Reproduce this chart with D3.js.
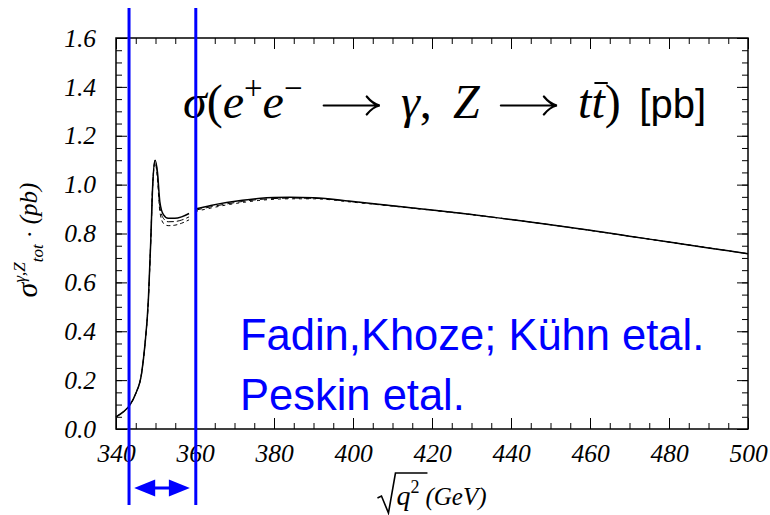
<!DOCTYPE html>
<html>
<head>
<meta charset="utf-8">
<script src="https://cdn.jsdelivr.net/npm/d3@7"></script>
<style>
  html, body { margin: 0; padding: 0; background: #fff; }
  svg { display: block; }
</style>
</head>
<body>
<script>
// ---------------- DATA ----------------
const xTickValues = [340, 360, 380, 400, 420, 440, 460, 480, 500];
const xTickLabels = ["340", "360", "380", "400", "420", "440", "460", "480", "500"];
const yTickValues = [0.0, 0.2, 0.4, 0.6, 0.8, 1.0, 1.2, 1.4, 1.6];
const yTickLabels = ["0.0", "0.2", "0.4", "0.6", "0.8", "1.0", "1.2", "1.4", "1.6"];

// threshold region (340 - 358.5 GeV)
const threshX      = [340, 342, 343.5, 345, 346.5, 347.3, 348.2, 348.8, 349.3, 349.9, 350.5, 351.1, 352, 353.2, 354.9, 356.6, 358.5];
const threshSolid  = [0.05, 0.072, 0.098, 0.145, 0.23, 0.34, 0.53, 0.77, 1.00, 1.10, 1.05, 0.93, 0.877, 0.862, 0.862, 0.868, 0.882];
const threshDash1  = [0.05, 0.072, 0.098, 0.145, 0.23, 0.34, 0.53, 0.77, 1.00, 1.10, 1.04, 0.91, 0.862, 0.848, 0.849, 0.855, 0.868];
const threshDash2  = [0.05, 0.072, 0.098, 0.145, 0.23, 0.34, 0.53, 0.77, 1.00, 1.09, 1.02, 0.89, 0.842, 0.832, 0.834, 0.842, 0.856];

// continuum region (360 - 500 GeV)
const contX     = [360, 364, 368, 372, 376, 380, 384, 390, 400, 410, 420, 430, 440, 450, 460, 470, 480, 490, 500];
const contSolid = [0.900, 0.915, 0.927, 0.936, 0.943, 0.947, 0.948, 0.946, 0.931, 0.914, 0.896, 0.878, 0.857, 0.836, 0.813, 0.789, 0.765, 0.741, 0.717];
const contDash1 = [0.895, 0.909, 0.921, 0.931, 0.939, 0.943, 0.945, 0.944, 0.930, 0.913, 0.896, 0.878, 0.857, 0.836, 0.813, 0.789, 0.765, 0.741, 0.717];
const contDash2 = [0.890, 0.904, 0.917, 0.927, 0.935, 0.940, 0.942, 0.942, 0.928, 0.912, 0.895, 0.877, 0.857, 0.836, 0.813, 0.789, 0.765, 0.741, 0.717];

// annotation (blue) in data units
const windowLines = [343.3, 360.2];
const arrowRange  = [344.6, 358.7];
const annotationLines = ["Fadin,Khoze; Kühn etal.", "Peskin etal."];

// ---------------- SETUP ----------------
const W = 770, H = 515;
const SERIF = "'Liberation Serif', 'Times New Roman', 'DejaVu Serif', serif";
const SANS = "'Liberation Sans', Arial, 'DejaVu Sans', sans-serif";
const BLUE = "#0000ff";

const svg = d3.select("body").append("svg").attr("width", W).attr("height", H);

const x = d3.scaleLinear().domain([340, 500]).range([116, 748]);
const y = d3.scaleLinear().domain([0, 1.6]).range([429, 38]);

const xMinor = d3.range(340, 500.01, 5);
const yMinor = d3.range(0, 1.6001, 0.05);

function styleAxis(g) {
  g.select(".domain").remove();
  g.selectAll(".tick line").attr("stroke", "#000").attr("stroke-width", 1);
  g.selectAll(".tick text")
    .attr("font-family", SERIF).attr("font-style", "italic")
    .attr("font-size", 25.5).attr("fill", "#000");
}

// minor ticks
svg.append("g").attr("transform", `translate(0,${y(0)})`)
  .call(d3.axisBottom(x).tickValues(xMinor).tickSize(-6).tickFormat("")).call(styleAxis);
svg.append("g").attr("transform", `translate(0,${y(1.6)})`)
  .call(d3.axisTop(x).tickValues(xMinor).tickSize(-6).tickFormat("")).call(styleAxis);
svg.append("g").attr("transform", `translate(${x(340)},0)`)
  .call(d3.axisLeft(y).tickValues(yMinor).tickSize(-6).tickFormat("")).call(styleAxis);
svg.append("g").attr("transform", `translate(${x(500)},0)`)
  .call(d3.axisRight(y).tickValues(yMinor).tickSize(-6).tickFormat("")).call(styleAxis);

// major ticks
svg.append("g").attr("transform", `translate(0,${y(0)})`)
  .call(d3.axisBottom(x).tickValues(xTickValues).tickSizeInner(-11).tickSizeOuter(0)
    .tickPadding(15).tickFormat((d, i) => xTickLabels[i])).call(styleAxis);
svg.append("g").attr("transform", `translate(0,${y(1.6)})`)
  .call(d3.axisTop(x).tickValues(xTickValues).tickSizeInner(-11).tickSizeOuter(0).tickFormat("")).call(styleAxis);
svg.append("g").attr("transform", `translate(${x(340)},0)`)
  .call(d3.axisLeft(y).tickValues(yTickValues).tickSizeInner(-11).tickSizeOuter(0)
    .tickPadding(20).tickFormat((d, i) => yTickLabels[i])).call(styleAxis);
svg.append("g").attr("transform", `translate(${x(500)},0)`)
  .call(d3.axisRight(y).tickValues(yTickValues).tickSizeInner(-11).tickSizeOuter(0).tickFormat("")).call(styleAxis);

// frame
svg.append("rect")
  .attr("x", x(340)).attr("y", y(1.6))
  .attr("width", x(500) - x(340)).attr("height", y(0) - y(1.6))
  .attr("fill", "none").attr("stroke", "#000").attr("stroke-width", 1.5);

// ---------------- CURVES ----------------
const line = d3.line().x(d => x(d[0])).y(d => y(d[1])).curve(d3.curveMonotoneX);
function drawCurve(xs, ys, dash, width) {
  svg.append("path")
    .datum(xs.map((v, i) => [v, ys[i]]))
    .attr("d", line)
    .attr("fill", "none").attr("stroke", "#000")
    .attr("stroke-width", width)
    .attr("stroke-dasharray", dash);
}
drawCurve(threshX, threshDash2, "4,3", 1);
drawCurve(threshX, threshDash1, "7,3", 1);
drawCurve(threshX, threshSolid, null, 1.5);
drawCurve(contX, contDash2, "3,4", 1);
drawCurve(contX, contDash1, "7,4", 1);
drawCurve(contX, contSolid, null, 1.5);

// ---------------- RICH TEXT HELPER ----------------
// pieces laid out left to right; {gap:w} adds space (stretched to reach targetWidth);
// {hold:true} stacks next piece at same x; {arrow:w, axis:h} draws a math arrow
function rich(parent, pieces, targetWidth) {
  const g = parent.append("g");
  const items = [];
  let holdW = null, natural = 0, gapTotal = 0;
  pieces.forEach(p => {
    if (p.gap) { items.push({ gap: p.gap }); gapTotal += p.gap; natural += p.gap; return; }
    if (p.arrow) { items.push({ arrow: p.arrow, axis: p.axis }); natural += p.arrow; return; }
    const t = g.append("text")
      .attr("y", p.dy || 0)
      .attr("font-family", p.ff || SERIF)
      .attr("font-size", p.fs)
      .attr("font-style", p.it ? "italic" : "normal")
      .attr("fill", p.fill || "#000")
      .text(p.t);
    const w = t.node().getComputedTextLength();
    let adv;
    if (p.hold) { holdW = w; adv = 0; }
    else if (holdW !== null) { adv = Math.max(w, holdW); holdW = null; }
    else adv = w;
    items.push({ t, w, adv, p });
    natural += adv;
  });
  const gapScale = (targetWidth && gapTotal > 0)
    ? Math.min(2, Math.max(0.5, (targetWidth - (natural - gapTotal)) / gapTotal)) : 1;
  let cx = 0;
  items.forEach(it => {
    if (it.gap !== undefined) { cx += it.gap * gapScale; return; }
    if (it.arrow !== undefined) {
      const w = it.arrow, a = -it.axis;
      g.append("path")
        .attr("d", `M${cx},${a} L${cx + w - 1.5},${a} M${cx + w - 13},${a - 9} Q${cx + w - 7},${a - 1.5} ${cx + w},${a} Q${cx + w - 7},${a + 1.5} ${cx + w - 13},${a + 9}`)
        .attr("fill", "none").attr("stroke", "#000").attr("stroke-width", 2.2)
        .attr("stroke-linecap", "round");
      cx += w;
      return;
    }
    it.t.attr("x", cx);
    if (it.p.over) {
      g.append("line")
        .attr("x1", cx + it.p.over[0]).attr("x2", cx + it.w + it.p.over[1])
        .attr("y1", it.p.over[2]).attr("y2", it.p.over[2])
        .attr("stroke", "#000").attr("stroke-width", 2);
    }
    cx += it.adv;
  });
  return { g, width: cx };
}

// ---------------- TITLE ----------------
const TS = 48;
const title = rich(svg, [
  { t: "σ", fs: TS, it: true },
  { t: "(", fs: TS },
  { t: "e", fs: TS, it: true },
  { t: "+", fs: 33, dy: -19 },
  { t: "e", fs: TS, it: true },
  { t: "−", fs: 33, dy: -19 },
  { gap: 16 },
  { arrow: 56, axis: 12.5 },
  { gap: 16 },
  { t: "γ", fs: TS, it: true },
  { t: ",", fs: TS },
  { gap: 16 },
  { t: "Z", fs: TS, it: true },
  { gap: 16 },
  { arrow: 56, axis: 12.5 },
  { gap: 16 },
  { t: "t", fs: TS, it: true },
  { t: "t", fs: TS, it: true, over: [3, 3, -35] },
  { t: ")", fs: TS },
  { gap: 14 },
  { t: "[pb]", fs: 40, ff: SANS }
], 523);
title.g.attr("transform", `translate(183,118)`);

// ---------------- Y LABEL ----------------
const ylab = rich(svg, [
  { t: "σ", fs: 30, it: true },
  { t: "γ,Z", fs: 17, it: true, dy: -12 },
  { t: "tot", fs: 17, it: true, dy: 6 },
  { gap: 6 },
  { t: "·", fs: 24 },
  { gap: 6 },
  { t: "(pb)", fs: 25, it: true }
]);
ylab.g.attr("transform", `translate(37,${240 + ylab.width / 2}) rotate(-90)`);

// ---------------- X LABEL ----------------
const xg = svg.append("g");
const xl = rich(xg, [
  { gap: 19 },
  { t: "q", fs: 28, it: true },
  { t: "2", fs: 18, dy: -12 },
  { gap: 6 },
  { t: "(GeV)", fs: 25, it: true }
]);
// radical sign
xl.g.append("path")
  .attr("d", "M0,-7 L4,-9 L11,8 L18,-32 L50,-32")
  .attr("fill", "none").attr("stroke", "#000").attr("stroke-width", 1.6)
  .attr("stroke-linejoin", "miter");
xl.g.attr("transform", `translate(${(x(340) + x(500)) / 2 - xl.width / 2},505)`);

// ---------------- BLUE ANNOTATIONS ----------------
svg.append("g").selectAll("text").data(annotationLines).join("text")
  .attr("x", 240)
  .attr("y", (d, i) => 350 + i * 60)
  .attr("font-family", SANS).attr("font-size", 43.5)
  .attr("fill", BLUE)
  .text(d => d);

svg.append("g").selectAll("line").data(windowLines).join("line")
  .attr("x1", d => x(d)).attr("x2", d => x(d))
  .attr("y1", 8).attr("y2", 505)
  .attr("stroke", BLUE).attr("stroke-width", 3);

// double-headed arrow
const ay = 488, ax0 = x(arrowRange[0]), ax1 = x(arrowRange[1]);
const headL = 21, headH = 8.5;
svg.append("line")
  .attr("x1", ax0 + 5).attr("x2", ax1 - 5)
  .attr("y1", ay).attr("y2", ay)
  .attr("stroke", BLUE).attr("stroke-width", 3);
svg.append("path")
  .attr("d", `M${ax0},${ay} L${ax0 + headL},${ay - headH} L${ax0 + headL},${ay + headH} Z`)
  .attr("fill", BLUE);
svg.append("path")
  .attr("d", `M${ax1},${ay} L${ax1 - headL},${ay - headH} L${ax1 - headL},${ay + headH} Z`)
  .attr("fill", BLUE);
</script>
</body>
</html>
